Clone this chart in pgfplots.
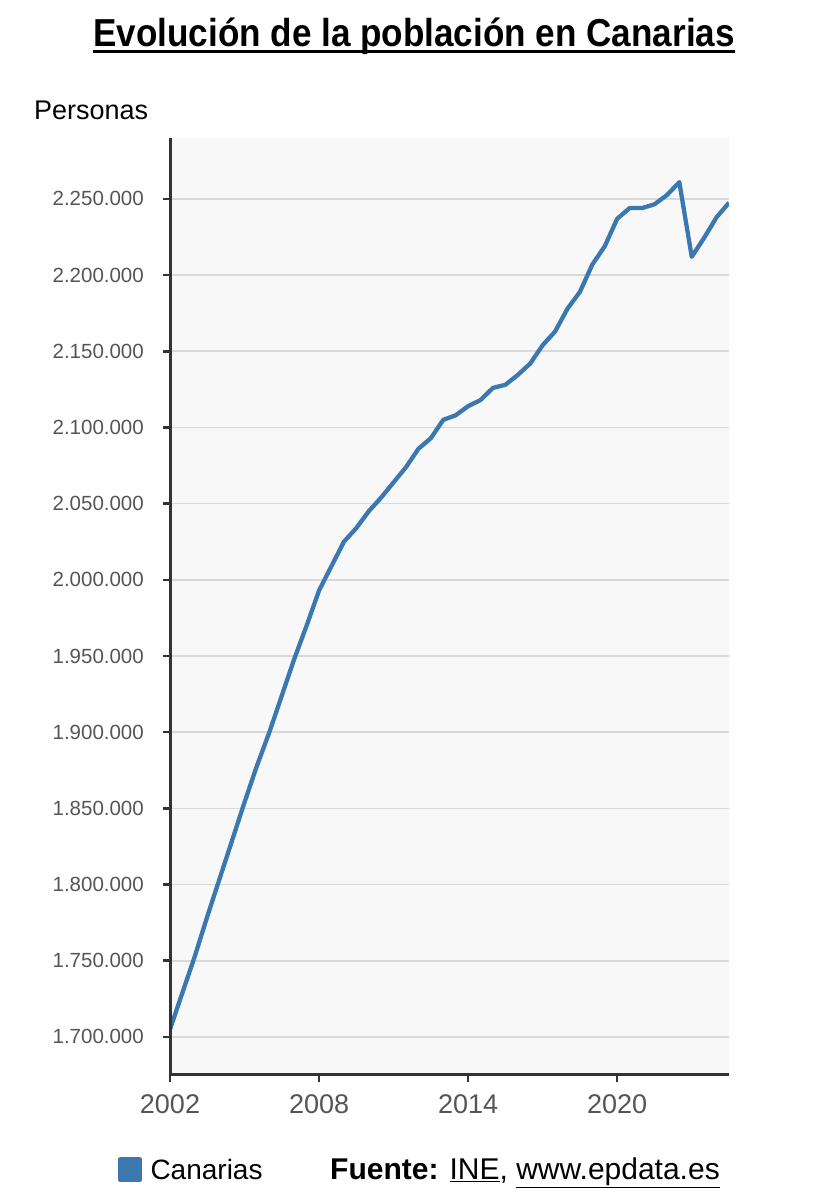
\documentclass[border=0pt]{standalone}
\usepackage{fontspec}
\setmainfont{Liberation Sans}
\usepackage{pgfplots}
\pgfplotsset{compat=1.18}
\definecolor{linecol}{HTML}{3A78AF}
\definecolor{gridcol}{HTML}{D9D9D9}
\definecolor{bgcol}{HTML}{F8F8F8}
\definecolor{axcol}{HTML}{333333}
\definecolor{labcol}{HTML}{555555}
\begin{document}
\begin{tikzpicture}
\useasboundingbox (0,0) rectangle (828pt,1200pt);
\node[anchor=base, inner sep=0pt] (title) at (414pt,1153pt)
  {\scalebox{0.9}[1]{\fontsize{39}{40}\selectfont\bfseries Evolución de la población en Canarias}};
\draw[line width=3pt] ([yshift=-5pt]title.base west) -- ([yshift=-5pt]title.base east);
\node[anchor=base west, inner sep=0pt] at (34pt,1080pt) {\fontsize{27}{28}\selectfont Personas};
\begin{axis}[
  at={(170pt,125pt)}, anchor=south west,
  scale only axis, width=559pt, height=937pt,
  xmin=2002, xmax=2024.5, ymin=1675000, ymax=2290000,
  axis background/.style={fill=bgcol},
  axis line style={draw=none},
  extra description/.code={
    \foreach \v in {1700000,1750000,1800000,1850000,1900000,1950000,2000000,2050000,2100000,2150000,2200000,2250000}
      {\draw[axcol, line width=2.5pt] (axis cs:2002,\v) -- ++(-7pt,0pt);}
    \foreach \t in {2002,2008,2014,2020}
      {\draw[axcol, line width=2.5pt] (axis cs:\t,1675000) -- ++(0pt,-7pt);}
    \draw[axcol, line width=3pt] (axis description cs:0,1) -- (axis description cs:0,0) -- (axis description cs:1,0);
  },
  ymajorgrids, major grid style={gridcol, line width=1.6pt},
  xtick pos=bottom, ytick pos=left,
  tick align=outside, major tick length=7pt,
  major tick style={draw=axcol, line width=2.5pt},
  xtick={2002,2008,2014,2020}, xticklabels={2002,2008,2014,2020},
  ytick={1700000,1750000,1800000,1850000,1900000,1950000,2000000,2050000,2100000,2150000,2200000,2250000},
  yticklabels={1.700.000,1.750.000,1.800.000,1.850.000,1.900.000,1.950.000,2.000.000,2.050.000,2.100.000,2.150.000,2.200.000,2.250.000},
  scaled y ticks=false, scaled x ticks=false,
  yticklabel style={font=\fontsize{20.5}{22}\selectfont, text=labcol, anchor=east, inner sep=0pt, xshift=-19pt},
  xticklabel style={font=\fontsize{27}{28}\selectfont, text=labcol, anchor=north, inner sep=0pt, yshift=-12pt},
  legend style={at={(axis description cs:-0.093,-0.101)}, anchor=west, draw=none, fill=none,
    font=\fontsize{28}{30}\selectfont, inner sep=0pt},
  legend image code/.code={\fill[linecol] (0pt,-10.5pt) rectangle (19pt,10.5pt); \path (26pt,0pt);},
]
\addplot[linecol, line width=4.3pt, line join=round] table {
x y
2002.0 1705000
2002.5 1729000
2003.0 1753000
2003.5 1779000
2004.0 1804000
2004.5 1829000
2005.0 1854000
2005.5 1878000
2006.0 1900000
2006.5 1924000
2007.0 1948000
2007.5 1970000
2008.0 1993000
2008.5 2009000
2009.0 2025000
2009.5 2034000
2010.0 2045000
2010.5 2054000
2011.0 2064000
2011.5 2074000
2012.0 2086000
2012.5 2093000
2013.0 2105000
2013.5 2108000
2014.0 2114000
2014.5 2118000
2015.0 2126000
2015.5 2128000
2016.0 2134500
2016.5 2142000
2017.0 2154000
2017.5 2163000
2018.0 2178000
2018.5 2189000
2019.0 2207000
2019.5 2219000
2020.0 2237000
2020.5 2244000
2021.0 2244000
2021.5 2246500
2022.0 2252500
2022.5 2261000
2023.0 2212000
2023.5 2224500
2024.0 2238000
2024.5 2247500
};
\addlegendentry{Canarias}
\end{axis}
\node[anchor=base west, inner sep=0pt] at (330pt,20pt)
  {\fontsize{30}{32}\selectfont\textbf{Fuente:} \underline{INE}, \underline{www.epdata.es}};
\end{tikzpicture}
\end{document}
